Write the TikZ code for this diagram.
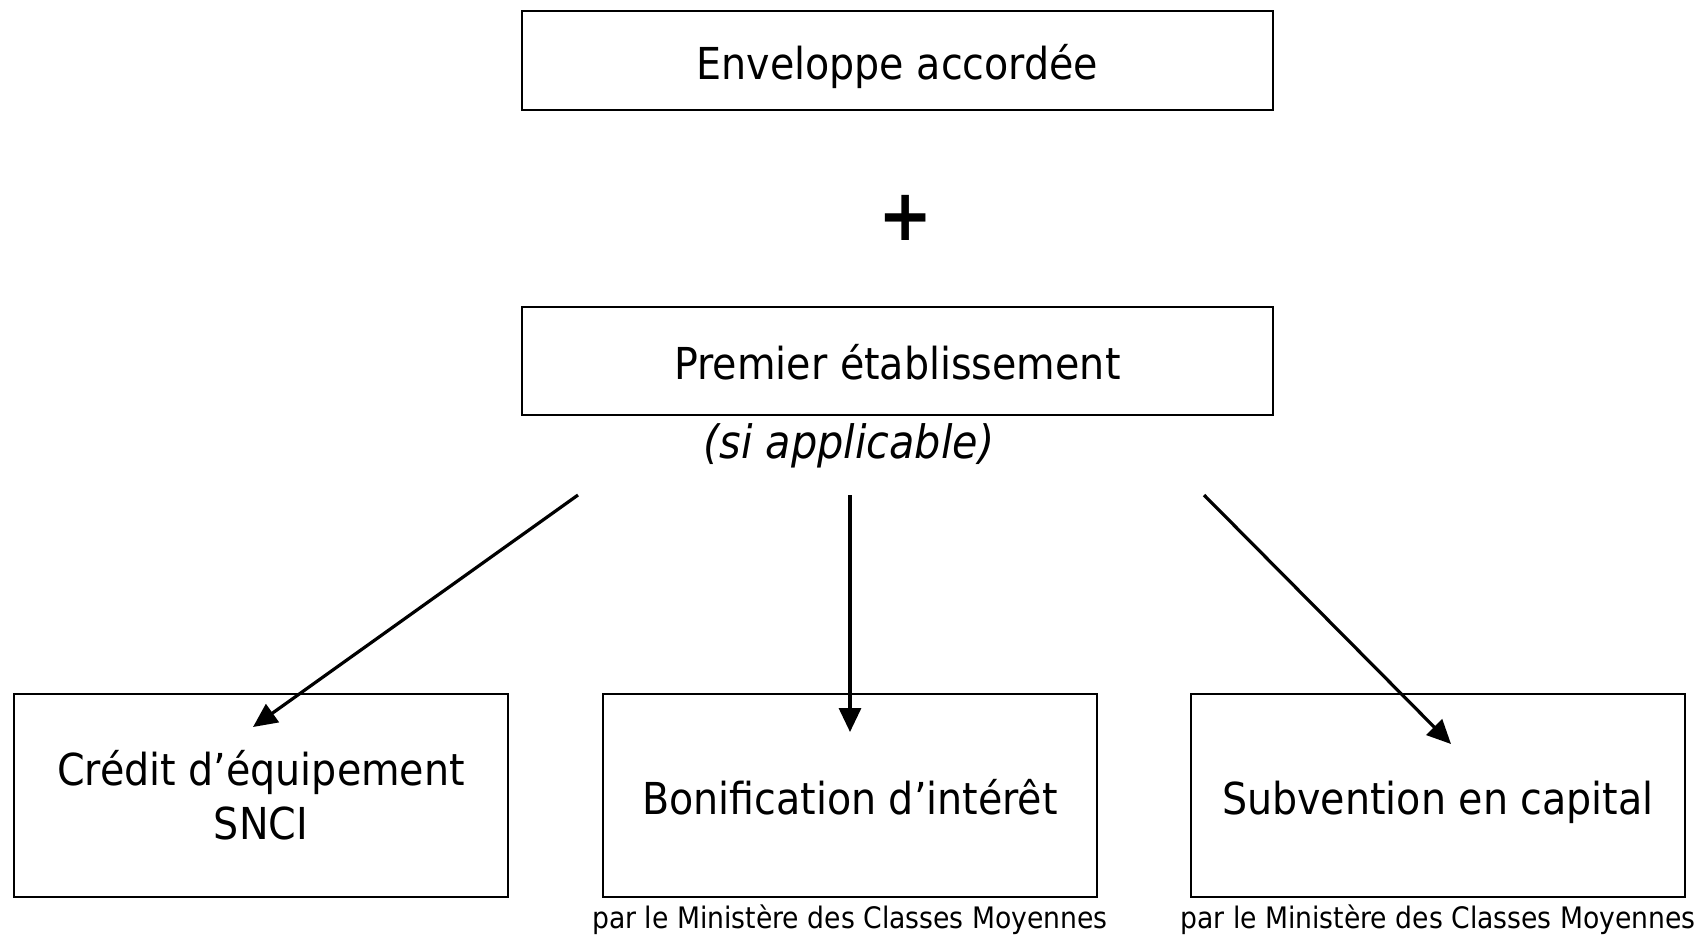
\documentclass[tikz,border=0pt]{standalone}
\usepackage{fontspec}
\setmainfont{DejaVu Sans Condensed}
\usetikzlibrary{arrows.meta}

\tikzset{
  onel/.style={text height=24pt,text depth=5.2pt}
}

\begin{document}
\begin{tikzpicture}[x=0.5pt,y=-0.5pt]
      \useasboundingbox (0,0) rectangle (1706,934);

      \begin{scope}[every node/.style={draw,line width=1pt,inner sep=0pt,
          font=\fontsize{22}{27}\selectfont,align=center}]
        \node[onel,minimum width=375.5pt,minimum height=49.5pt] (env)  at (897.5,60.5)  {Enveloppe accordée};
        \node[onel,minimum width=375.5pt,minimum height=54pt]   (prem) at (897.5,361)  {Premier établissement};
        \node[minimum width=247pt,minimum height=101.5pt]       (cred) at (261,795.5)  {Crédit d’équipement\\SNCI};
        \node[onel,minimum width=247pt,minimum height=101.5pt]  (bon)  at (850,795.5)  {Bonification d’intérêt};
        \node[onel,minimum width=247pt,minimum height=101.5pt]  (sub)  at (1438,795.5) {Subvention en capital};
      \end{scope}

      \node[font=\fontsize{36}{40}\selectfont\bfseries] (plus) at (906,218) {+};
      \node[font=\fontsize{23}{28}\selectfont\itshape] (si) at (849,446) {(si applicable)};

      \begin{scope}[every node/.style={font=\fontsize{14.8}{18}\selectfont,anchor=north}]
        \node (parbon) at (bon.south) {par le Ministère des Classes Moyennes};
        \node (parsub) at (sub.south) {par le Ministère des Classes Moyennes};
      \end{scope}

      \coordinate (sl) at (578,495);
      \coordinate (sm) at (850,495);
      \coordinate (sr) at (1204,495);
      \coordinate (el) at (253,727);
      \coordinate (em) at (850,732);
      \coordinate (er) at (1451,744);

      \begin{scope}[every edge/.style={draw,line width=1.6pt,-{Triangle[length=12pt,width=11pt]}}]
        \path (sl) edge (el);
        \path (sm) edge (em);
        \path (sr) edge (er);
      \end{scope}

\end{tikzpicture}
\end{document}
